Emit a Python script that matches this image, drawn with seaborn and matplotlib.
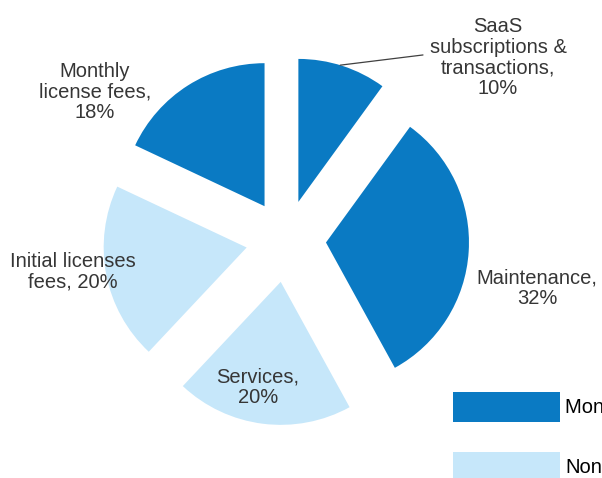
import numpy as np
import matplotlib
matplotlib.use("Agg")
import matplotlib.pyplot as plt
from matplotlib.patches import Patch
import seaborn as sns

# Revenue mix by source
categories = ["SaaS\nsubscriptions &\ntransactions", "Maintenance", "Services",
              "Initial licenses\nfees", "Monthly\nlicense fees"]
label_joins = [",\n", ",\n", ",\n", ", ", ",\n"]
shares = [10, 32, 20, 20, 18]
recurring = [True, True, False, False, True]
legend_labels = ["Monthly recurring", "Non-recurring"]

sns.set_theme(style="white")
plt.rcParams["font.family"] = ["Liberation Sans", "DejaVu Sans"]

dark_blue = "#0A7AC3"
light_blue = "#C6E7FA"
text_color = "#363636"
colors = [dark_blue if r else light_blue for r in recurring]

W, H = 602, 478
cx, cy, scale = 286, 240, 143  # pie centre and radius in pixels
FS = 14.5

fig = plt.figure(figsize=(W / 100, H / 100), dpi=100)
ax = fig.add_axes([0, 0, 1, 1])

wedges, _ = ax.pie(shares, colors=colors, startangle=90, counterclock=False,
                   explode=[0.28, 0.28, 0.295, 0.28, 0.28], radius=1.0,
                   wedgeprops=dict(linewidth=0))
ax.set_aspect("equal")
ax.set_xlim(-cx / scale, (W - cx) / scale)
ax.set_ylim(-(H - cy) / scale, cy / scale)
ax.axis("off")

label_pos = {
    0: (1.483, 1.276),
    1: (1.755, -0.336),
    2: (-0.196, -1.031),
    3: (-1.490, -0.224),
    4: (-1.336, 1.035),
}
for i, (name, val, join) in enumerate(zip(categories, shares, label_joins)):
    x, y = label_pos[i]
    ax.text(x, y, f"{name}{join}{val}%", ha="center", va="center",
            fontsize=FS, color=text_color, linespacing=1.1)

# Leader line for the small SaaS slice
w = wedges[0]
mid = np.deg2rad((w.theta1 + w.theta2) / 2 + 1)
sx = w.center[0] + w.r * np.cos(mid)
sy = w.center[1] + w.r * np.sin(mid)
ax.plot([sx, 0.958], [sy, 1.294], color="#404040", linewidth=0.9)

handles = [Patch(facecolor=dark_blue, edgecolor="none"),
           Patch(facecolor=light_blue, edgecolor="none")]
fs = FS * 100 / 72
hh = (30 - 0.245 * fs) / (0.65 * fs)
fig.legend(handles, legend_labels, loc="upper left",
           bbox_to_anchor=(453 / W, 1 - 392 / H), frameon=False,
           fontsize=FS, handlelength=107 / fs, handleheight=hh,
           handletextpad=5 / fs, labelspacing=30 / fs, borderpad=0,
           borderaxespad=0, labelcolor="black")

fig.savefig("out.png", dpi=100)
